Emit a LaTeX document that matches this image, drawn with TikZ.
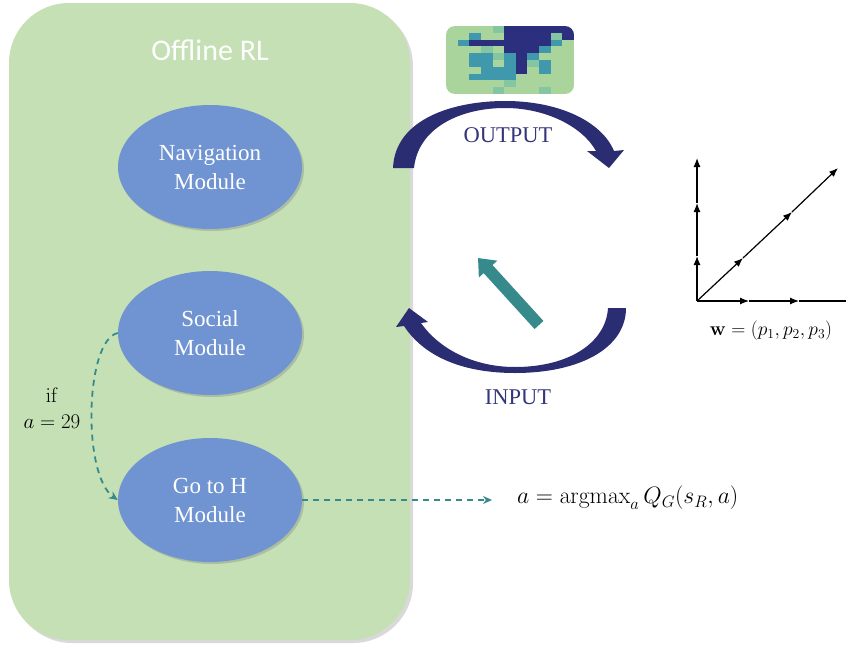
\RequirePackage{fix-cm}
\documentclass[tikz,border=0pt]{standalone}
\usepackage{amsmath}
\usepackage[no-math]{fontspec}
\setmainfont{Liberation Serif}
\newfontfamily\carlitofont{Carlito}
\usetikzlibrary{shadows,arrows.meta,shapes.geometric}
\definecolor{greenbox}{HTML}{C5E0B4}
\definecolor{ellblue}{HTML}{6F94D1}
\definecolor{navy}{HTML}{2B2D72}
\definecolor{navytext}{HTML}{34367A}
\definecolor{tealc}{HTML}{368A8C}
\definecolor{hmL}{HTML}{A9D59C}
\definecolor{hmM}{HTML}{84C6A2}
\definecolor{hmT}{HTML}{3F98AC}
\definecolor{hmD}{HTML}{2C2E7E}
\begin{document}
\begin{tikzpicture}[x=1pt,y=-1pt,
  module/.style={ellipse, fill=ellblue, minimum width=184pt, minimum height=124pt,
    inner sep=0pt, text=white, align=center, font=\fontsize{23}{29}\selectfont,
    drop shadow={shadow xshift=2pt,shadow yshift=-2pt,opacity=.35}},
  flow/.style={draw=tealc, line width=1.8pt, dash pattern=on 6pt off 5pt,
    -{Stealth[length=9pt,width=8pt]}},
  mathlab/.style={inner sep=0pt, font=\fontsize{21}{25}\selectfont},
  arclab/.style={inner sep=0pt, text=navytext, font=\fontsize{22.5}{26}\selectfont},
  axis/.style={line width=1.2pt, draw=black, -{Latex[length=9pt,width=7pt]}}]
\useasboundingbox (0,0) rectangle (846,645);

% Offline RL container
\node[rectangle, rounded corners=60pt, fill=greenbox, minimum width=401pt,
  minimum height=637pt, inner sep=0pt,
  drop shadow={shadow xshift=3pt,shadow yshift=-3pt,opacity=.3}] (rl) at (209.5,321.5) {};
\node[text=white, inner sep=0pt, font=\carlitofont\fontsize{30}{36}\selectfont] (rltitle) at (210,50) {Offline RL};

% modules
\node[module] (nav) at (210,167) {Navigation\\Module};
\node[module] (soc) at (210,333) {Social\\Module};
\node[module] (goh) at (210,500) {Go to H\\Module};

% condition
\node[mathlab, font=\fontsize{21}{25}\selectfont, align=center] (cond) at (52,408) {$\mathrm{if}$\\[1pt]$a=29$};
\draw[flow] (soc.west) .. controls (85,340) and (82,475) .. (goh.west);

% argmax
\node[mathlab, font=\fontsize{23.7}{28}\selectfont, anchor=west] (argm) at (517,498) {$a = \operatorname{argmax}_a Q_G(s_R, a)$};
\draw[flow] (goh.east) -- ([xshift=-25pt]argm.west |- goh.east);

% heatmap
\begin{scope}
\clip[rounded corners=9pt] (446,26) rectangle (574,94);
\foreach \row [count=\r from 0] in {
  {L,L,L,L,M,D,D,D,D,D,D},
  {L,L,T,L,L,D,D,D,D,M,D},
  {L,T,D,D,D,D,D,D,D,T,L},
  {L,L,L,M,L,D,D,D,T,L,L},
  {L,L,T,T,M,T,D,T,L,L,L},
  {L,L,T,T,L,T,D,M,T,L,L},
  {L,L,L,T,T,T,D,L,T,L,L},
  {L,L,T,T,T,T,L,L,L,L,L},
  {L,L,L,L,L,M,L,L,L,L,L},
  {L,L,L,L,M,L,L,L,M,L,L}} {
  \foreach \c [count=\k from 0] in \row {
    \fill[hm\c] (446+\k*11.64, 26+\r*6.8) rectangle ++(11.8,7);
  }
}
\end{scope}

% OUTPUT arc
\fill[navy] (393,168) .. controls (395,118) and (455,101) .. (505,101)
  .. controls (560,101) and (602,122) .. (614,151)
  -- (624,150) -- (609,168) -- (587,151)
  -- (596,151) .. controls (582,126) and (545,108) .. (505,108)
  .. controls (460,108) and (418,128) .. (414,168) -- cycle;
\node[arclab] (outl) at (508,135) {OUTPUT};

% INPUT arc
\fill[navy] (626,308) .. controls (626,348) and (580,373) .. (515,373)
  .. controls (465,373) and (425,358) .. (404,326)
  -- (396,327) -- (409,308) -- (428,322)
  -- (421,323) .. controls (440,350) and (475,367) .. (515,367)
  .. controls (570,367) and (606,342) .. (608,308) -- cycle;
\node[arclab] (inl) at (518,397) {INPUT};

% teal arrow
\coordinate (tt) at (539,325);
\coordinate (th) at (478,258);
\draw[tealc, line width=12pt, -{Triangle[width=24pt,length=15pt]}] (tt) -- (th);

% vector diagram
\coordinate (O) at (697,301);
\coordinate (v1) at (697,256);
\coordinate (v2) at (697,203);
\coordinate (v3) at (697,158);
\coordinate (h1) at (749,301);
\coordinate (h2) at (799,301);
\coordinate (h3) at (846,301);
\coordinate (d1) at (743,258);
\coordinate (d2) at (792,212);
\coordinate (d3) at (838,168);
\draw[axis] (O) -- (v1);
\draw[axis] (v1) -- (v2);
\draw[axis] (v2) -- (v3);
\draw[axis] (O) -- (h1);
\draw[axis] (h1) -- (h2);
\draw[line width=1.2pt] (h2) -- (h3);
\draw[axis] (O) -- (d1);
\draw[axis] (d1) -- (d2);
\draw[axis] (d2) -- (d3);
\node[mathlab, font=\fontsize{19.5}{23}\selectfont] (wlab) at (771,331) {$\mathbf{w}=(p_1,p_2,p_3)$};
\end{tikzpicture}
\end{document}
